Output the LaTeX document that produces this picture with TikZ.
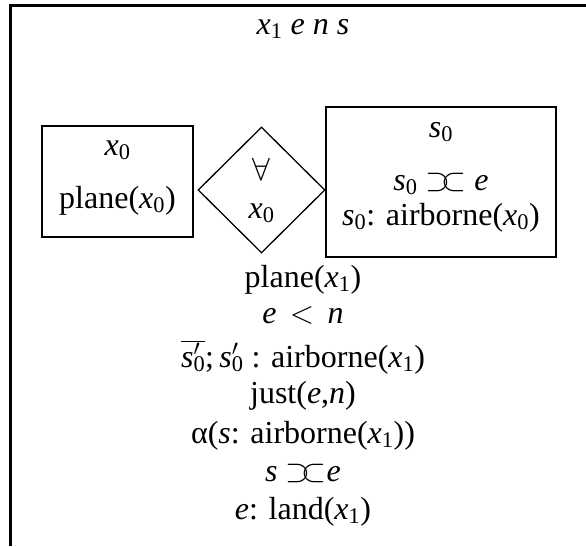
\RequirePackage{fix-cm}
\documentclass[tikz,border=0pt]{standalone}
\usepackage{fontspec}
\setmainfont{Liberation Serif}
\usetikzlibrary{shapes.geometric}
\newcommand\vx[2]{\textit{#1}\textsubscript{#2}}
\newcommand\ovlp{\ensuremath{\supset\mkern-5mu\subset}}
\newcommand\spz{\textit{s}\makebox[0pt][l]{\textsuperscript{$\prime$}}\textsubscript{0}}
\tikzset{
  txt/.style={inner sep=0pt, anchor=base, font=\fontsize{32}{38}\selectfont},
  drsbox/.style={draw, line width=2.6pt, inner sep=0pt},
  frameline/.style={line width=3pt}
}
\begin{document}
\begin{tikzpicture}[x=1pt,y=-1pt]
\useasboundingbox (0,0) rectangle (586,546);
\coordinate (tr) at (586,5);
\coordinate (tl) at (10,5);
\coordinate (bl) at (10,546);
\draw[frameline] (tr) -- (tl) -- (bl);

\node[drsbox, minimum width=151pt, minimum height=111pt] (lbox) at (117.5,181.5) {};
\node[draw, diamond, line width=1.3pt, inner sep=0pt, minimum width=127pt, minimum height=126pt] (dia) at (261.5,190) {};
\node[drsbox, minimum width=230pt, minimum height=150pt] (rbox) at (441,182) {};

\node[txt] (univ) at (303,34) {\vx{x}{1} \textit{e} \textit{n} \textit{s}};

\node[txt] (lx) at (117.5,155) {\vx{x}{0}};
\node[txt] (lplane) at (117.5,208) {plane(\vx{x}{0})};

\node[txt] (fa) at (261.5,180) {$\forall$};
\node[txt] (dx) at (261.5,218) {\vx{x}{0}};

\node[txt] (rs) at (441,137) {\vx{s}{0}};
\node[txt] (rov) at (441,190) {\vx{s}{0} \ovlp\ \textit{e}};
\node[txt] (rair) at (441,225) {\vx{s}{0}: airborne(\vx{x}{0})};

\node[txt] (c1) at (303,287) {plane(\vx{x}{1})};
\node[txt] (c2) at (303,323) {\textit{e} \,$<$\, \textit{n}};
\node[txt] (c3) at (303,367) {$\overline{\hbox{\spz}}$;\,\spz\ : airborne(\vx{x}{1})};
\node[txt] (c4) at (303,403) {just(\textit{e},\textit{n})};
\node[txt] (c5) at (303,443) {α(\textit{s}: airborne(\vx{x}{1}))};
\node[txt] (c6) at (303,481) {\textit{s} \ovlp\textit{e}};
\node[txt] (c7) at (303,519) {\textit{e}: land(\vx{x}{1})};
\end{tikzpicture}
\end{document}
